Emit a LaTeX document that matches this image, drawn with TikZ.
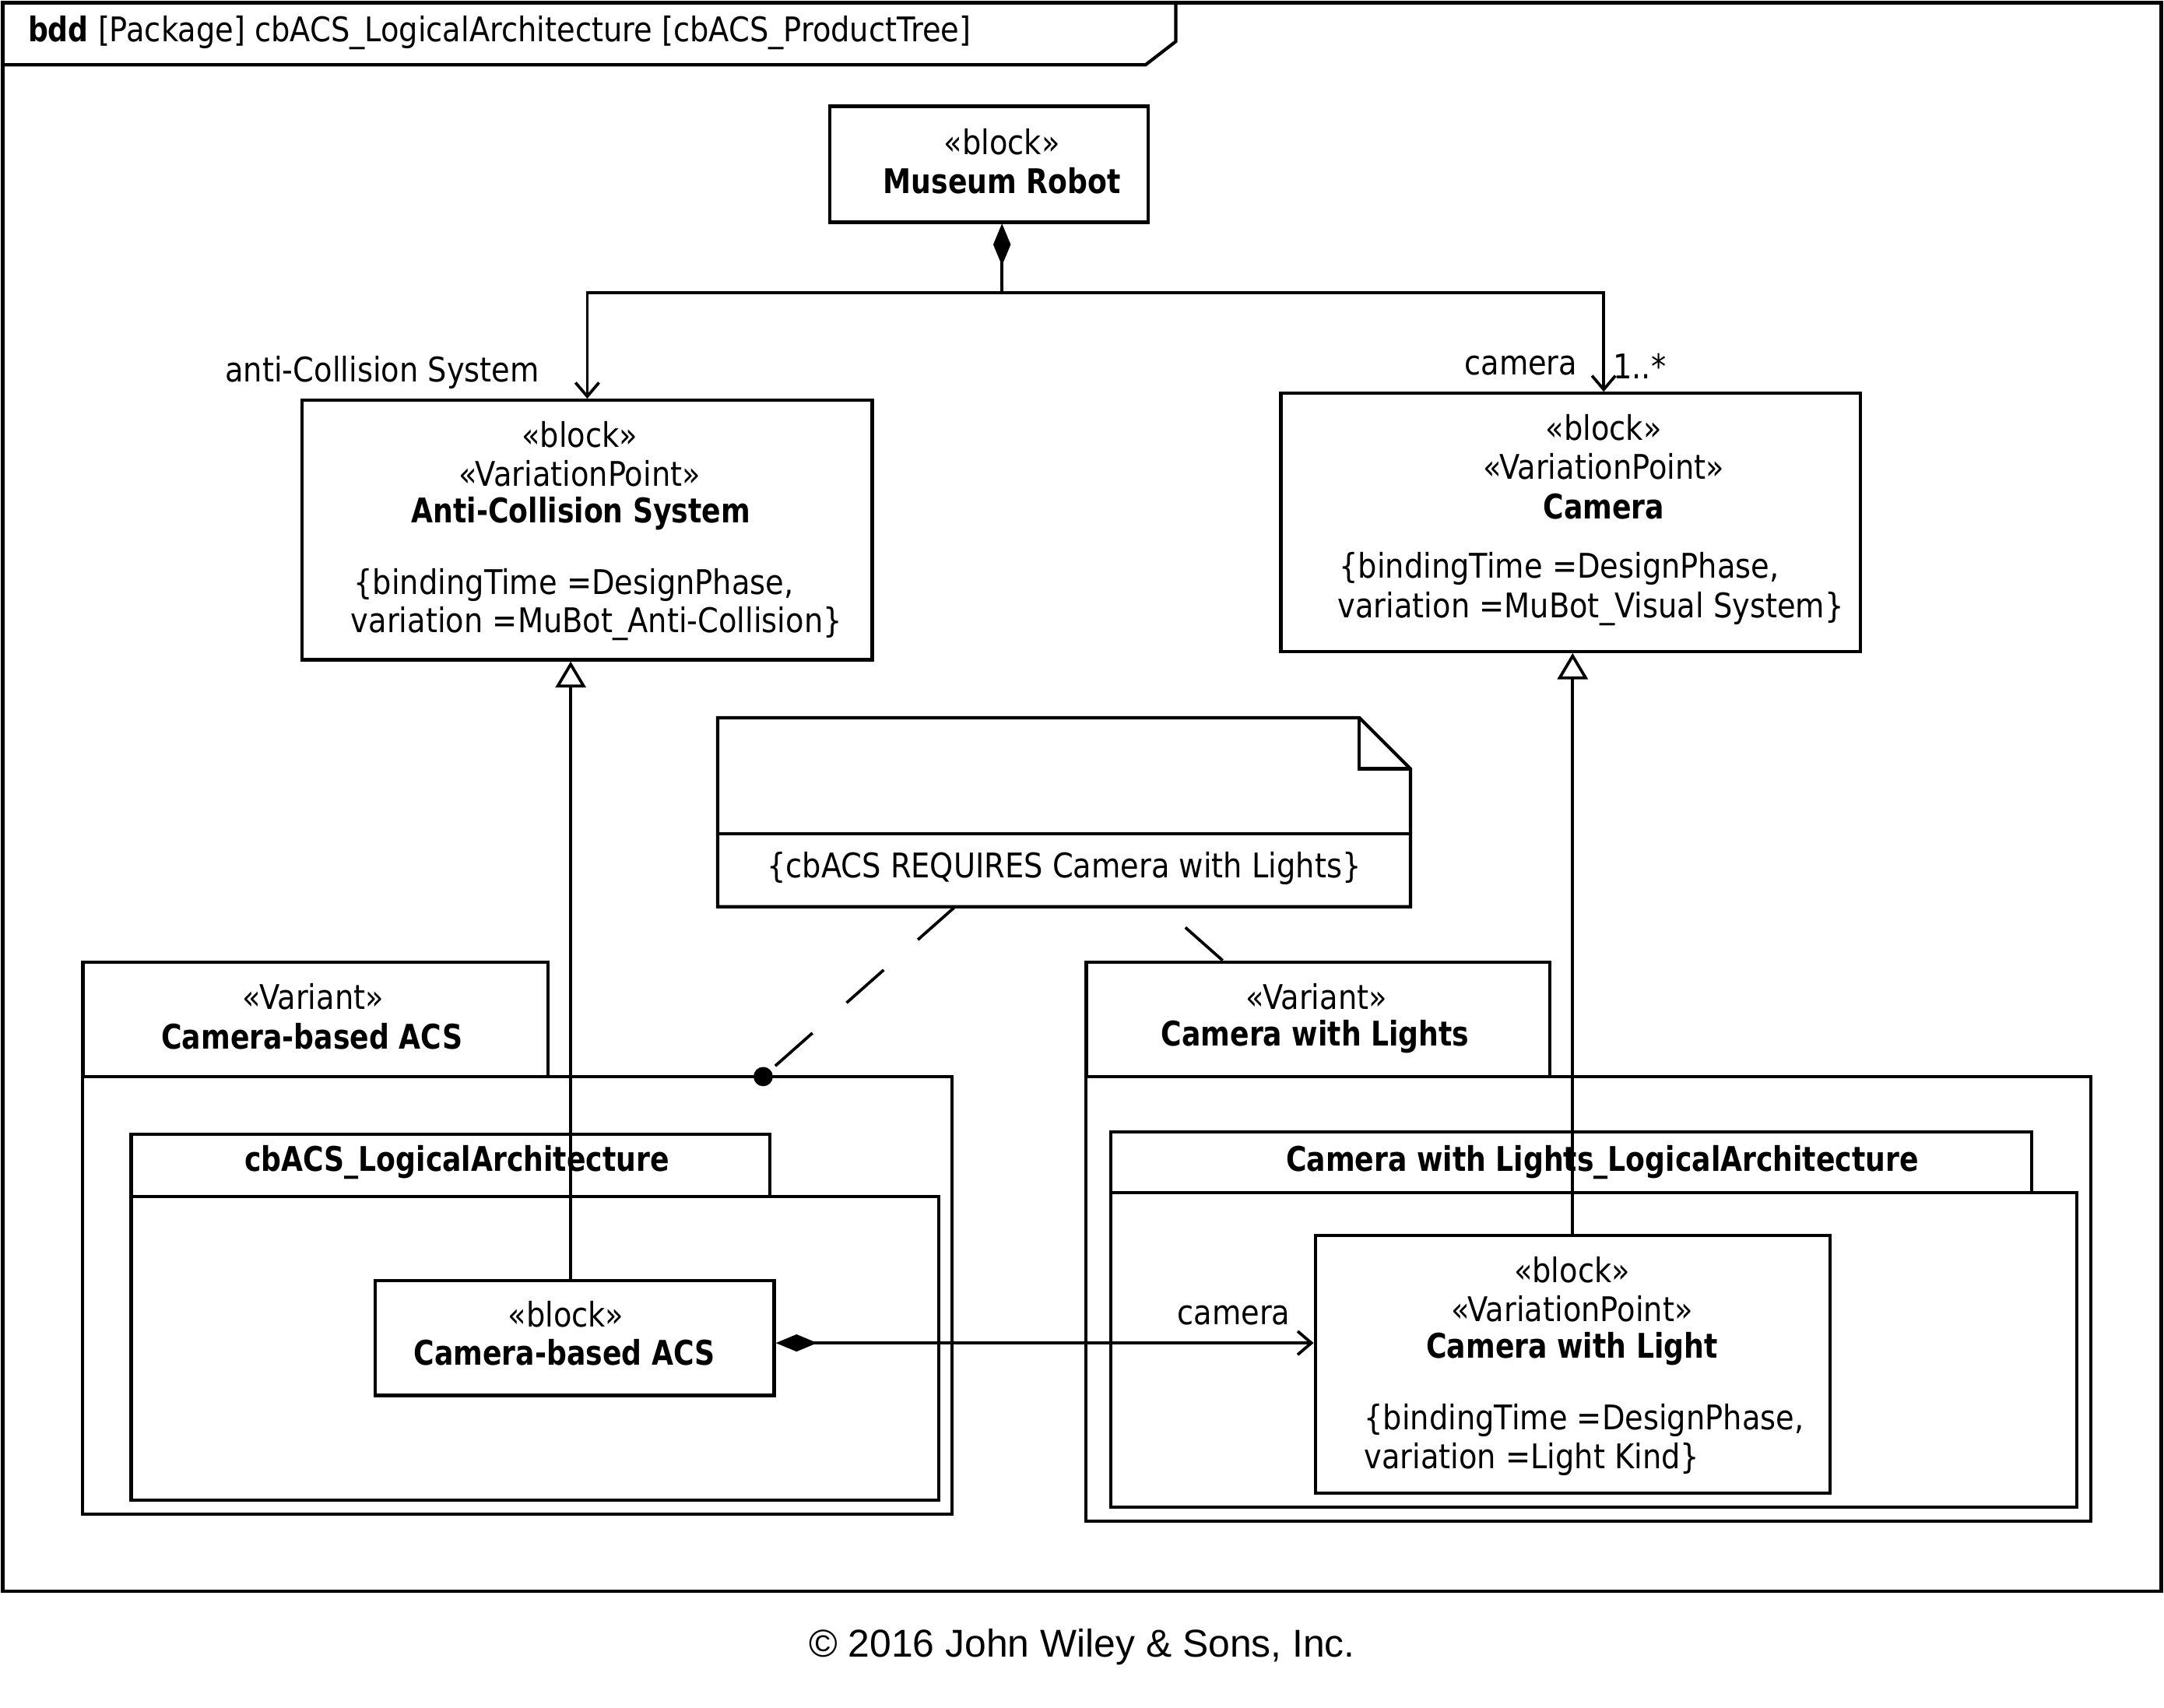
\documentclass[tikz,border=0pt]{standalone}
\usepackage{fontspec}
\setmainfont{DejaVu Sans}[FakeStretch=0.88, BoldFeatures={FakeStretch=0.83}]
\newfontfamily\wileyfont{Liberation Sans}
\usetikzlibrary{arrows.meta}
\usetikzlibrary{calc}

\begin{document}
\begin{tikzpicture}[x=0.02cm, y=-0.02cm]
    \tikzset{
        every node/.style={font=\fontsize{14}{16}\selectfont, inner sep=0pt},
        box/.style={draw, line width=1.35pt},
        bb/.style={font=\fontsize{14}{16}\selectfont\bfseries},
        rel/.style={line width=1.2pt},
        comp/.style={rel, {Diamond[length=0.6cm, width=0.25cm]}-{Straight Barb[length=0.2cm, width=0.34cm]}},
        gen/.style={rel, -{Triangle[open, length=0.38cm, width=0.44cm, fill=white]}},
        anchorline/.style={rel, dash pattern=on 0.72cm off 0.66cm}
    }

    \useasboundingbox (0,0) rectangle (1568,1237);

    % diagram frame
    \draw[box] (2,2) rectangle (1566,1153);
    \draw[box] (2,47) -- (830,47) -- (852,30) -- (852,2);
    \node[anchor=west] (title) at (20,24) {\textbf{bdd} [Package] cbACS\_LogicalArchitecture [cbACS\_ProductTree]};

    % top level blocks
    \node[box, minimum width=4.62cm, minimum height=1.68cm] (robot) at (716.5,119) {};
    \node (robotst) at (726,103) {«block»};
    \node[bb] (robotname) at (726,131) {Museum Robot};

    \node[box, minimum width=8.26cm, minimum height=3.76cm] (acs) at (425.5,384) {};
    \node (acsst) at (420,315) {«block»};
    \node (acsvp) at (420,343) {«VariationPoint»};
    \node[bb] (acsname) at (421,372) {Anti-Collision System};
    \node[anchor=west] (acsc1) at (256,424) {\{bindingTime =DesignPhase,};
    \node[anchor=west] (acsc2) at (254,452) {variation =MuBot\_Anti-Collision\}};

    \node[box, minimum width=8.4cm, minimum height=3.74cm] (cam) at (1138,378.5) {};
    \node (camst) at (1162,310) {«block»};
    \node (camvp) at (1162,338) {«VariationPoint»};
    \node[bb] (camname) at (1162,367) {Camera};
    \node[anchor=west] (camc1) at (970,412) {\{bindingTime =DesignPhase,};
    \node[anchor=west] (camc2) at (969,441) {variation =MuBot\_Visual System\}};

    % constraint note
    \draw[box] (520,520) -- (985,520) -- (1022,557) -- (1022,657) -- (520,657) -- cycle;
    \draw[box] (985,520) -- (985,557) -- (1022,557);
    \draw[box] (520,604) -- (1022,604);
    \node (note) at (771,629) {\{cbACS REQUIRES Camera with Lights\}};

    % variant Camera-based ACS
    \node[box, minimum width=6.74cm, minimum height=1.66cm] (cbvtab) at (228.5,738.5) {};
    \node (cbvst) at (227,722) {«Variant»};
    \node[bb] (cbvname) at (226,751) {Camera-based ACS};
    \draw[box] (60,780) rectangle (690,1097);
    \draw[box] (95,822) rectangle (558,867);
    \draw[box] (95,867) rectangle (680,1087);
    \node[bb] (cbpkg) at (331,842) {cbACS\_LogicalArchitecture};
    \node[box, minimum width=5.78cm, minimum height=1.66cm] (cbacs) at (416.5,969.5) {};
    \node (cbacsst) at (410,952) {«block»};
    \node[bb] (cbacsname) at (409,980) {Camera-based ACS};

    % variant Camera with Lights
    \node[box, minimum width=6.72cm, minimum height=1.66cm] (cwlvtab) at (955,738.5) {};
    \node (cwlvst) at (954,722) {«Variant»};
    \node[bb] (cwlvname) at (953,751) {Camera with Lights};
    \draw[box] (787,780) rectangle (1515,1102);
    \draw[box] (805,820) rectangle (1472,864);
    \draw[box] (805,864) rectangle (1505,1092);
    \node[bb] (cwlpkg) at (1161,842) {Camera with Lights\_LogicalArchitecture};
    \node[box, minimum width=7.46cm, minimum height=3.74cm] (cwl) at (1139.5,988.5) {};
    \node (cwlst) at (1139,920) {«block»};
    \node (cwlvp) at (1139,948) {«VariationPoint»};
    \node[bb] (cwlname) at (1139,977) {Camera with Light};
    \node[anchor=west] (cwlc1) at (988,1029) {\{bindingTime =DesignPhase,};
    \node[anchor=west] (cwlc2) at (988,1057) {variation =Light Kind\}};

    % relationships
    \draw[comp] (robotname |- robot.south) -- ++(0,50) -| (acs.north);
    \draw[comp] (robotname |- robot.south) -- ++(0,50) -| (camname |- cam.north);
    \node (acsrole) at (277,270) {anti-Collision System};
    \node (camrole) at (1102,265) {camera};
    \node (cammult) at (1188,265) {1..*};

    \draw[gen] ($(cbacs.north)+(-3,0)$) -- ($(cbacs.north |- acs.south)+(-3,0)$);
    \draw[gen] (cwl.north) -- (cwl.north |- cam.south);

    \draw[comp] ($(cbacs.east)+(0,3.5)$) -- ($(cwl.west |- cbacs.east)+(0,3.5)$);
    \node (cwlrole) at (894,953) {camera};

    \coordinate (dotA) at (553,780);
    \coordinate (noteA) at (692,657);
    \coordinate (noteB) at (842,657);
    \coordinate (varB) at ($(cwlvtab.north west)+(100,0)$);
    \draw[anchorline] (noteA) -- (dotA);
    \fill (dotA) circle [radius=0.14cm];
    \draw[anchorline] (varB) -- (noteB);

    \node[font=\wileyfont\fontsize{16}{19}\selectfont] (copy) at (784,1193) {© 2016 John Wiley \& Sons, Inc.};
\end{tikzpicture}
\end{document}
